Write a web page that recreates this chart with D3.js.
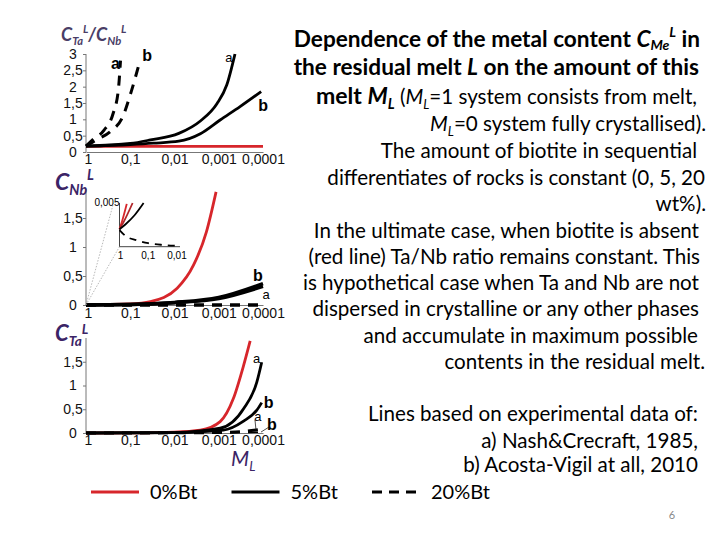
<!DOCTYPE html>
<html><head><meta charset="utf-8">
<script src="https://cdn.jsdelivr.net/npm/d3@7"></script>
<style>body{margin:0;background:#fff}svg{display:block}</style>
</head><body><svg id="c" width="720" height="540"></svg>
<script>
// ---------- data ----------
const mTicks = [1, 0.1, 0.01, 0.001, 0.0001];
const mTickLabels = ["1", "0,1", "0,01", "0,001", "0,0001"];
const ratioTicks = [0, 0.5, 1, 1.5, 2, 2.5, 3];
const ratioTickLabels = ["0", "0,5", "1", "1,5", "2", "2,5", "3"];
const contentTicks = [0, 0.5, 1, 1.5];
const contentTickLabels = ["0", "0,5", "1", "1,5"];

// Panel 1: C_Ta/C_Nb ratio
const ratioRed_M = [1, 0.0001];
const ratioRed_V = [0.17, 0.17];
const ratio5a_M = [1, 0.1, 0.035, 0.008, 0.0026, 0.0011, 0.00066, 0.00043];
const ratio5a_V = [0.18, 0.26, 0.37, 0.57, 0.95, 1.48, 2.05, 3.0];
const ratio5b_M = [1, 0.1, 0.03, 0.008, 0.0026, 0.00093, 0.00033, 0.00011];
const ratio5b_V = [0.18, 0.23, 0.27, 0.33, 0.56, 0.98, 1.39, 1.85];
const ratio20a_M = [1, 0.7, 0.39, 0.245, 0.186, 0.166];
const ratio20a_V = [0.18, 0.38, 0.67, 1.17, 1.9, 2.8];
const ratio20b_M = [1, 0.6, 0.28, 0.15, 0.095, 0.063];
const ratio20b_V = [0.18, 0.36, 0.63, 1.06, 1.85, 2.7];

// Panel 2: C_Nb
const nbRed_M = [1, 0.1, 0.035, 0.0087, 0.0037, 0.0019, 0.00115];
const nbRed_V = [0.002, 0.02, 0.06, 0.29, 0.69, 1.26, 1.95];
const nb5a_M = [1, 0.1, 0.01, 0.001, 0.0001];
const nb5a_V = [0.002, 0.008, 0.04, 0.11, 0.32];
const nb5b_M = [1, 0.1, 0.01, 0.001, 0.0001];
const nb5b_V = [0.002, 0.009, 0.045, 0.13, 0.37];
const nb20_M = [1, 0.0001];
const nb20_V = [0.002, 0.0];
// Panel 2 inset (M_L from 1 to 0.01, C_Nb from 0 to 0.005)
const insetTicks = [1, 0.1, 0.01];
const insetTickLabels = ["1", "0,1", "0,01"];
const insetYLabel = "0,005";
const insetRed1_M = [1, 0.8, 0.56];
const insetRed1_V = [0.002, 0.003, 0.0049];
const insetRed2_M = [1, 0.7, 0.35];
const insetRed2_V = [0.002, 0.0029, 0.005];
const inset5_M = [1, 0.6, 0.3, 0.145];
const inset5_V = [0.002, 0.0026, 0.0036, 0.005];
const inset20_M = [1, 0.6, 0.26, 0.1, 0.03, 0.01];
const inset20_V = [0.0019, 0.0012, 0.00075, 0.0004, 0.0002, 0.0001];

// Panel 3: C_Ta
const taRed_M = [1, 0.1, 0.01, 0.0026, 0.00093, 0.00047, 0.000275, 0.000195];
const taRed_V = [0.0004, 0.004, 0.02, 0.06, 0.24, 0.72, 1.42, 1.94];
const ta5a_M = [1, 0.01, 0.00093, 0.000275, 0.000138, 0.000107];
const ta5a_V = [0.0004, 0.01, 0.1, 0.51, 1.07, 1.49];
const ta5b_M = [1, 0.01, 0.00079, 0.000275, 0.000138, 0.000107];
const ta5b_V = [0.0004, 0.006, 0.06, 0.25, 0.48, 0.64];
const ta20a_M = [1, 0.01, 0.001, 0.0003, 0.00013];
const ta20a_V = [0.001, 0.003, 0.01, 0.03, 0.07];
const ta20b_M = [1, 0.001, 0.0001];
const ta20b_V = [0.001, 0.005, 0.02];

const legendLabels = ["0%Bt", "5%Bt", "20%Bt"];

// ---------- text ----------
const titleLines = [
  [{t:"Dependence of the metal content ",b:1},{t:"C",b:1,i:1},{t:"Me",b:1,i:1,sub:1},{t:"L",b:1,i:1,sup:1},{t:" in",b:1}],
  [{t:"the residual melt ",b:1},{t:"L",b:1,i:1},{t:" on the amount of this",b:1}],
  [{t:"melt ",b:1,big:1},{t:"M",b:1,i:1,big:1},{t:"L",b:1,i:1,sub:1,big:1},{t:" ("},{t:"M",i:1},{t:"L",i:1,sub:1},{t:"=1 system consists from melt,"}],
  [{t:"M",i:1},{t:"L",i:1,sub:1},{t:"=0 system fully crystallised)."}]
];
const bodyLines = [
  "The amount of biotite in sequential",
  "differentiates of rocks is constant (0, 5, 20",
  "wt%).",
  "In the ultimate case, when biotite is absent",
  "(red line) Ta/Nb ratio remains constant. This",
  "is hypothetical case when Ta and Nb are not",
  "dispersed in crystalline or any other phases",
  "and accumulate in maximum possible",
  "contents in the residual melt."
];
const refLines = [
  "Lines based on experimental data of:",
  "a) Nash&Crecraft, 1985,",
  "b) Acosta-Vigil at all, 2010"
];
const pageNumber = "6";

// ---------- drawing ----------
const svg = d3.select("#c");
const RED = "#d7262b", PURPLE = "#3b2466", AX = "#777";
const TICKFONT = "'Liberation Sans', Arial, sans-serif";
const TEXTFONT = "Lato, 'Open Sans', sans-serif";

const zip = (M, V) => M.map((m, i) => [m, V[i]]);

function richText(g, segs, x, y, size, anchor, opts = {}) {
  const t = g.append("text").attr("x", x).attr("y", y).attr("text-anchor", anchor)
    .style("font-family", opts.font || TEXTFONT).style("font-size", size + "px")
    .attr("fill", opts.fill || "#000");
  let off = 0;
  segs.forEach(s => {
    const base = s.big ? size * (opts.bigScale || 1) : size;
    const ts = t.append("tspan").text(s.t).style("font-size", base + "px");
    if (s.b) ts.attr("font-weight", "bold");
    if (s.i) ts.attr("font-style", "italic");
    let want = 0, fs = base;
    if (s.sub) { want = base * (opts.subOff || 0.22); fs = base * 0.62; }
    if (s.sup) { want = -base * (opts.supOff || 0.42); fs = base * 0.62; }
    ts.style("font-size", fs + "px");
    if (want !== off) { ts.attr("dy", want - off); off = want; }
  });
  return t;
}

function panel(cfg) {
  const g = svg.append("g");
  const x = d3.scaleLog().domain([1, 0.0001]).range([86, 263]);
  const y = d3.scaleLinear().domain(cfg.yDomain).range(cfg.yRange);
  const ya = d3.axisLeft(y).tickValues(cfg.yTicks).tickFormat((d, i) => cfg.yLabels[i]).tickSize(3).tickPadding(0).tickSizeOuter(0);
  const yg = g.append("g").attr("transform", "translate(86,0)").call(ya);
  yg.select(".domain").attr("stroke", AX).attr("d", `M0,${cfg.yRange[0]}V${cfg.yRange[1]}`);
  yg.selectAll(".tick line").attr("stroke", AX);
  yg.selectAll("text").style("font-family", TICKFONT).style("font-size", "14px").attr("fill", "#111")
    .attr("text-anchor", "middle").attr("x", -13);
  const xa = d3.axisBottom(x).tickValues(mTicks).tickFormat((d, i) => mTickLabels[i]).tickSize(0).tickPadding(cfg.xPad).tickSizeOuter(0);
  const xg = g.append("g").attr("transform", `translate(0,${cfg.yRange[0]})`).call(xa);
  xg.select(".domain").attr("stroke", AX);
  xg.selectAll("text").style("font-family", TICKFONT).style("font-size", "14px").attr("fill", "#111")
    .attr("dx", (d, i) => i === 0 ? 2 : 0);
  const line = d3.line().x(d => x(d[0])).y(d => y(d[1])).curve(d3.curveMonotoneX);
  cfg.series.forEach(s => {
    g.append("path").attr("d", line(s.data)).attr("fill", "none")
      .attr("stroke", s.color).attr("stroke-width", s.w || 2.8)
      .attr("stroke-dasharray", s.dash ? "10,8" : null)
      .attr("stroke-linecap", "butt");
    if (s.label) {
      const e = s.data[s.data.length - 1];
      const lx = x(e[0]) + s.label.dx, ly = y(e[1]) + s.label.dy;
      if (s.label.leader) {
        g.append("line").attr("x1", x(e[0]) - 2).attr("y1", y(e[1]))
          .attr("x2", lx - 3).attr("y2", ly + 3).attr("stroke", "#222").attr("stroke-width", 0.8);
      }
      g.append("text").attr("x", lx).attr("y", ly).attr("dy", "0.35em").attr("text-anchor", "middle")
        .style("font-family", TICKFONT).style("font-size", s.label.bold ? "16px" : "13px")
        .attr("font-weight", s.label.bold ? "bold" : "normal").text(s.label.t);
    }
  });
  return { g, x, y };
}

// Panel 1
panel({
  yDomain: [0, 3], yRange: [152, 54], yTicks: ratioTicks, yLabels: ratioTickLabels, xPad: 2,
  series: [
    { data: zip(ratioRed_M, ratioRed_V), color: RED },
    { data: zip(ratio5a_M, ratio5a_V), color: "#000", label: { t: "a", dx: -6, dy: 3 } },
    { data: zip(ratio5b_M, ratio5b_V), color: "#000", label: { t: "b", dx: 2, dy: 14, bold: 1 } },
    { data: zip(ratio20a_M, ratio20a_V), color: "#000", dash: 1, w: 3, label: { t: "a", dx: -5, dy: 3, bold: 1 } },
    { data: zip(ratio20b_M, ratio20b_V), color: "#000", dash: 1, w: 3, label: { t: "b", dx: 8, dy: -8, bold: 1 } }
  ]
});

// Panel 2
const p2 = panel({
  yDomain: [0, 2], yRange: [305, 189], yTicks: contentTicks, yLabels: contentTickLabels, xPad: 3,
  series: [
    { data: zip(nbRed_M, nbRed_V), color: RED },
    { data: zip(nb20_M, nb20_V), color: "#000", dash: 1, w: 3.5 },
    { data: zip(nb5a_M, nb5a_V), color: "#000", w: 3.5, label: { t: "a", dx: 3, dy: 8 } },
    { data: zip(nb5b_M, nb5b_V), color: "#000", w: 3.5, label: { t: "b", dx: -5, dy: -8, bold: 1 } }
  ]
});

// Inset in panel 2
(function () {
  const g = svg.append("g");
  const xi = d3.scaleLog().domain([1, 0.01]).range([119.5, 177]);
  const yi = d3.scaleLinear().domain([0, 0.005]).range([246.7, 203]);
  const ox = p2.x(1), oy = p2.y(0);
  [[xi(1) - 6, yi(0.005)], [xi(1), yi(0)]].forEach(p => {
    g.append("line").attr("x1", ox).attr("y1", oy).attr("x2", p[0]).attr("y2", p[1])
      .attr("stroke", "#999").attr("stroke-width", 0.7).attr("stroke-dasharray", "1.5,1.5");
  });
  g.append("path").attr("d", `M${xi(1)},${yi(0.005)}V${yi(0)}H${xi(0.01) + 3}`).attr("fill", "none").attr("stroke", "#444").attr("stroke-width", 1);
  insetTicks.forEach((t, i) => {
    g.append("text").attr("x", xi(t) + (i === 0 ? 1 : 0)).attr("y", yi(0) + 12).attr("text-anchor", "middle")
      .style("font-family", TICKFONT).style("font-size", "10px").text(insetTickLabels[i]);
  });
  g.append("text").attr("x", xi(1)).attr("y", yi(0.005) + 3).attr("text-anchor", "end")
    .style("font-family", TICKFONT).style("font-size", "10px").text(insetYLabel);
  const li = d3.line().x(d => xi(d[0])).y(d => yi(d[1])).curve(d3.curveMonotoneX);
  [
    { d: zip(insetRed1_M, insetRed1_V), c: RED },
    { d: zip(insetRed2_M, insetRed2_V), c: "#b0262a" },
    { d: zip(inset5_M, inset5_V), c: "#000" },
    { d: zip(inset20_M, inset20_V), c: "#000", dash: 1 }
  ].forEach(s => {
    g.append("path").attr("d", li(s.d)).attr("fill", "none").attr("stroke", s.c).attr("stroke-width", 1.8)
      .attr("stroke-dasharray", s.dash ? "7,6" : null);
  });
})();

// Panel 3
panel({
  yDomain: [0, 2], yRange: [433, 338], yTicks: contentTicks, yLabels: contentTickLabels, xPad: 2,
  series: [
    { data: zip(taRed_M, taRed_V), color: RED },
    { data: zip(ta5a_M, ta5a_V), color: "#000", label: { t: "a", dx: -5, dy: -4 } },
    { data: zip(ta5b_M, ta5b_V), color: "#000", label: { t: "b", dx: 7, dy: 0, bold: 1 } },
    { data: zip(ta20a_M, ta20a_V), color: "#000", dash: 1, w: 3, label: { t: "a", dx: 0, dy: -13, leader: 1 } },
    { data: zip(ta20b_M, ta20b_V), color: "#000", dash: 1, w: 1.5, label: { t: "b", dx: 9, dy: -8, bold: 1, leader: 1 } }
  ]
});

// Panel titles
richText(svg, [{t:"C",i:1,b:1},{t:"Ta",i:1,b:1,sub:1},{t:"L",i:1,b:1,sup:1},{t:"/C",i:1,b:1},{t:"Nb",i:1,b:1,sub:1},{t:"L",i:1,b:1,sup:1}],
  61, 41, 18, "start", { fill: "#4a3d66" });
richText(svg, [{t:"C",i:1,b:1},{t:"Nb",i:1,b:1,sub:1},{t:"L",i:1,b:1,sup:1}], 55, 190, 23, "start", { fill: PURPLE });
richText(svg, [{t:"C",i:1,b:1},{t:"Ta",i:1,b:1,sub:1},{t:"L",i:1,b:1,sup:1}], 55, 341, 22, "start", { fill: PURPLE, supOff: 0.34 });
richText(svg, [{t:"M",i:1},{t:"L",i:1,sub:1}], 231, 466, 21, "start", { fill: PURPLE });

// Legend
(function () {
  const items = [
    { c: RED, dash: null },
    { c: "#000", dash: null },
    { c: "#000", dash: "10,7" }
  ];
  const lx = d3.scalePoint().domain(legendLabels).range([91, 372]);
  legendLabels.forEach((lab, i) => {
    const x0 = lx(lab);
    svg.append("line").attr("x1", x0).attr("x2", x0 + 48).attr("y1", 492).attr("y2", 492)
      .attr("stroke", items[i].c).attr("stroke-width", 2.8).attr("stroke-dasharray", items[i].dash);
    svg.append("text").attr("x", x0 + 59).attr("y", 499).style("font-family", TEXTFONT)
      .style("font-size", "20px").text(lab);
  });
})();

// Right-hand text blocks, fitted to the reference widths
function fitBlock(lines, layout, baseSize, opts = {}) {
  const ratios = lines.map((segs, i) => {
    const t = richText(svg, segs, 0, -100, baseSize, "start", opts);
    const w = t.node().getComputedTextLength();
    t.remove();
    return (layout[i][2] - layout[i][0]) / w;
  });
  const r = d3.median(ratios);
  lines.forEach((segs, i) => {
    richText(svg, segs, layout[i][2], layout[i][1], baseSize * r, "end", opts);
  });
}
// [left, baseline, right]
const titleLayout = [[296, 47, 700], [291, 75, 699], [317, 104, 697], [430, 131, 706]];
fitBlock(titleLines.slice(0, 2), titleLayout.slice(0, 2), 21, { subOff: 0.15 });
const bodyLayout = [[383,158,697],[323,185,705],[655,211,706],[315,238,699],[302,264,700],[303,290,699],[313,316,699],[363,343,698],[443,369,705]];
const refLayout = [[371,421,698],[500,448,698],[488,472,698]];
(function () {
  const segs = bodyLines.map(s => [{ t: s }]);
  const ratios = segs.map((sg, i) => {
    const t = richText(svg, sg, 0, -100, 20, "start");
    const w = t.node().getComputedTextLength(); t.remove();
    return (bodyLayout[i][2] - bodyLayout[i][0]) / w;
  }).filter((r, i) => i !== 2);
  const r = d3.median(ratios);
  const fs = 20 * r;
  segs.forEach((sg, i) => richText(svg, sg, bodyLayout[i][2], bodyLayout[i][1], fs, "end"));
  refLines.forEach((s, i) => richText(svg, [{ t: s }], refLayout[i][2], refLayout[i][1], fs, "end"));
  richText(svg, titleLines[2], titleLayout[2][2], titleLayout[2][1], fs, "end", { bigScale: 1.12 });
  richText(svg, titleLines[3], titleLayout[3][2], titleLayout[3][1], fs, "end");
})();

svg.append("text").attr("x", 672).attr("y", 519).attr("text-anchor", "middle")
  .style("font-family", TEXTFONT).style("font-size", "11px").attr("fill", "#888").text(pageNumber);
</script>
</body></html>
